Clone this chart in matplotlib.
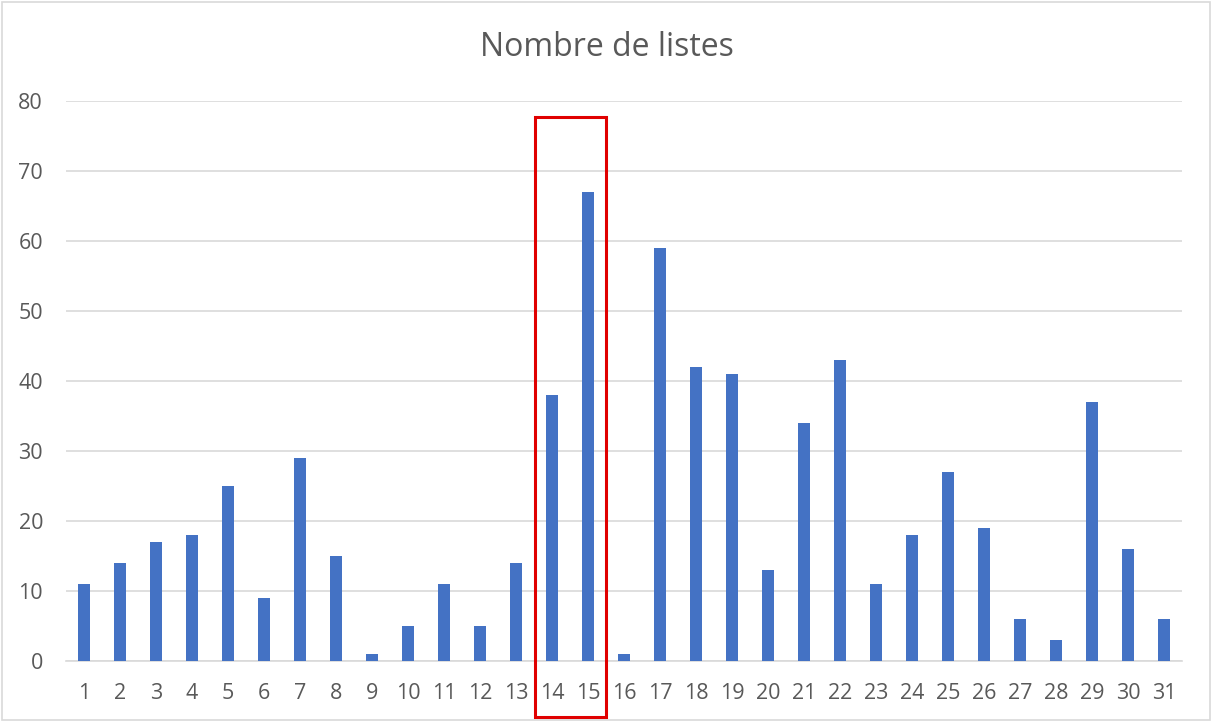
import matplotlib
matplotlib.use("Agg")
import matplotlib.pyplot as plt
from matplotlib.patches import Rectangle

days = list(range(1, 32))
counts = [11, 14, 17, 18, 25, 9, 29, 15, 1, 5, 11, 5, 14, 38, 67, 1,
          59, 42, 41, 13, 34, 43, 11, 18, 27, 19, 6, 3, 37, 16, 6]
title = "Nombre de listes"
yticks = [0, 10, 20, 30, 40, 50, 60, 70, 80]

plt.rcParams['font.family'] = ['Open Sans', 'DejaVu Sans']
W, H = 1212, 722
fig = plt.figure(figsize=(W / 100, H / 100), dpi=100)
ax = fig.add_axes([66 / W, 1 - 661 / H, (1182 - 66) / W, (661 - 101) / H])

ax.bar(days, counts, width=0.333, color='#4472C4', zorder=3)
ax.set_xlim(0.5, 31.5)
ax.set_ylim(0, 80)
ax.set_yticks(yticks)
ax.set_xticks(days)
ax.grid(axis='y', color='#D9D9D9', linewidth=1.2, zorder=0)
for s in ['top', 'right', 'left']:
    ax.spines[s].set_visible(False)
ax.spines['bottom'].set_color('#D9D9D9')
ax.spines['bottom'].set_linewidth(1.2)
ax.tick_params(axis='both', length=0, labelsize=15.5, labelcolor='#595959')
ax.tick_params(axis='y', pad=16.5)
ax.tick_params(axis='x', pad=16)

fig.text(607 / W, 1 - 47 / H, title, ha='center', va='center', fontsize=23, color='#595959')

# highlight rectangle around days 14-15
ax.add_patch(Rectangle((13.53, -8.0), 15.5 - 13.53, 77.7 + 8.0, fill=False,
                       edgecolor='#E00000', linewidth=2.2, clip_on=False, zorder=5))

# chart border
fig.add_artist(Rectangle((2 / W, 2 / H), 1 - 4 / W, 1 - 4 / H, transform=fig.transFigure,
                         fill=False, edgecolor='#D9D9D9', linewidth=1.2))

fig.savefig("out.png", dpi=100)
